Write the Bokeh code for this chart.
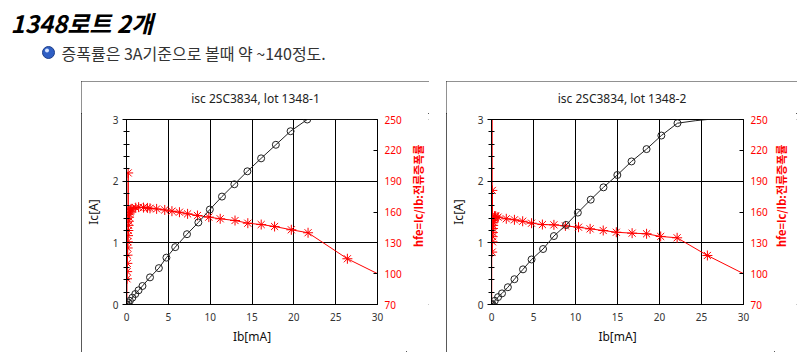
import math
from bokeh.plotting import figure
from bokeh.models import Range1d, LinearAxis, FixedTicker, SingleIntervalTicker, Spacer
from bokeh.layouts import column, row
from bokeh.embed import file_html
from bokeh.resources import INLINE
from bokeh.core.properties import value

# ---------------- data ----------------
heading = "1348로트 2개"
note = "증폭률은 3A기준으로 볼때 약 ~140정도."
titles = ["isc 2SC3834, lot 1348-1", "isc 2SC3834, lot 1348-2"]
x_label = "Ib[mA]"
y_label = "Ic[A]"
y2_label = "hfe=Ic/Ib:전류증폭률"
hfe_ticks = [70, 100, 130, 160, 190, 220, 250]

# lot 1348-1 : Ic vs Ib
ib_a1 = [0.0, 0.05, 0.2, 0.4, 0.7, 1.05, 1.44, 1.91, 2.81, 3.87, 4.77, 5.82, 7.23, 8.59,
         9.96, 11.41, 12.89, 14.45, 16.09, 17.85, 19.61, 21.6, 26.4, 30.0]
ic_a1 = [0.0, 0.005, 0.03, 0.06, 0.11, 0.17, 0.23, 0.30, 0.44, 0.59, 0.76, 0.93, 1.14, 1.33,
         1.54, 1.75, 1.95, 2.16, 2.37, 2.59, 2.81, 3.0, 3.0, 3.0]
# lot 1348-1 : hfe vs Ib
ib_h1 = [0.03, 0.06, 0.08, 0.1, 0.12, 0.14, 0.16, 0.18, 0.2, 0.22, 0.25, 0.28, 0.31, 0.35,
         0.4, 0.46, 0.55, 0.67, 1.1, 1.45, 2.03, 2.5, 2.81, 3.6, 4.57, 5.43, 6.33, 7.3, 8.48,
         9.84, 11.2, 12.97, 14.5, 16.1, 17.7, 19.7, 21.7, 26.4, 30.0]
hfe_1 = [40, 95, 102, 110, 118, 125, 131, 137, 198, 142, 147, 151, 155, 158,
         160, 162, 163, 163.1, 164.2, 164.7, 164.3, 164.0, 163.6, 163.0, 162.0, 160.8, 159.8, 158.2, 156.6,
         155.0, 153.4, 151.7, 149.1, 147.8, 145.9, 142.7, 139.8, 114.5, 100.0]

# lot 1348-2 : Ic vs Ib
ib_a2 = [0.0, 0.1, 0.39, 0.78, 1.25, 1.95, 2.73, 3.75, 4.77, 6.14, 7.43, 8.88, 10.28, 11.81,
         13.33, 14.98, 16.67, 18.46, 20.22, 22.14, 24.25, 25.7, 30.0]
ic_a2 = [0.0, 0.01, 0.06, 0.12, 0.18, 0.28, 0.41, 0.57, 0.73, 0.90, 1.11, 1.29, 1.49, 1.70,
         1.90, 2.10, 2.32, 2.52, 2.74, 2.94, 2.98, 3.0, 3.0]
# lot 1348-2 : hfe vs Ib
ib_h2 = [0.02, 0.05, 0.08, 0.1, 0.12, 0.14, 0.16, 0.18, 0.2, 0.23, 0.26, 0.3, 0.35, 0.42, 0.5,
         0.78, 1.76, 2.73, 3.71, 4.77, 6.06, 7.43, 8.8, 10.36, 11.74, 13.3, 14.86, 16.74,
         18.46, 20.14, 22.1, 25.7, 30.0]
hfe_2 = [30, 300, 121, 181, 131, 136, 140, 144, 147, 150, 152, 154, 156, 155, 156,
         155.0, 153.4, 152.4, 151.0, 149.1, 147.8, 147.5, 146.5, 145.2, 143.6, 142.0, 140.3, 139.4,
         138.8, 136.2, 134.9, 117.7, 100.0]

FONT = "Noto Sans"
KFONT = "Noto Sans CJK KR"
RED = "#ff0000"
TITLE_H = 32
H = 239
LABEL_W = 23


def strip(width, height):
    f = figure(width=width, height=height, x_range=Range1d(0, width), y_range=Range1d(height, 0),
               output_backend="svg", toolbar_location=None, x_axis_type=None,
               y_axis_type=None, min_border=0, border_fill_color="white",
               background_fill_color="white")
    f.grid.visible = False
    f.outline_line_color = None
    return f


def make_chart(ib_a, ic_a, n_circ, ib_h, hfe, width, left, right):
    p = figure(width=width, height=H, x_range=Range1d(0, 30), y_range=Range1d(0, 3),
               output_backend="svg", toolbar_location=None,
               min_border_left=left, min_border_right=right,
               min_border_top=6, min_border_bottom=48,
               background_fill_color="white", border_fill_color="white")
    p.outline_line_color = "black"
    p.outline_line_width = 1

    p.extra_y_ranges = {"hfe": Range1d(70, 250)}

    xa = p.xaxis[0]
    xa.ticker = SingleIntervalTicker(interval=5, num_minor_ticks=0)
    xa.axis_label = x_label
    ya = p.yaxis[0]
    ya.ticker = SingleIntervalTicker(interval=1, num_minor_ticks=5)
    ya.axis_label = y_label

    ra = LinearAxis(y_range_name="hfe", ticker=FixedTicker(ticks=hfe_ticks))
    p.add_layout(ra, "right")

    for ax in (xa, ya, ra):
        ax.axis_line_color = "black"
        ax.major_label_text_font = FONT
        ax.major_label_text_font_size = "10px"
        ax.axis_label_text_font = FONT
        ax.axis_label_text_font_size = "12px"
        ax.axis_label_text_font_style = "normal"
        ax.axis_label_text_color = "#111"
        ax.major_label_text_color = "#333"
        ax.major_tick_line_color = "black"
        ax.minor_tick_line_color = "black"

    xa.major_tick_in = 0
    xa.major_tick_out = 0
    xa.minor_tick_line_color = None
    xa.major_label_standoff = 8
    xa.axis_label_standoff = 4

    ya.major_tick_in = 0
    ya.major_tick_out = 4
    ya.minor_tick_in = 3
    ya.minor_tick_out = 3
    ya.major_label_standoff = 4
    ya.axis_label_standoff = 8

    ra.major_tick_in = 4
    ra.major_tick_out = 0
    ra.minor_tick_line_color = None
    ra.major_label_standoff = 7
    ra.major_label_text_color = RED

    p.xgrid.grid_line_color = "black"
    p.ygrid.grid_line_color = "black"
    p.xgrid.grid_line_alpha = 1
    p.ygrid.grid_line_alpha = 1

    # hfe series (red, secondary axis)
    p.line(ib_h, hfe, y_range_name="hfe", line_color=RED, line_width=1)
    p.scatter(ib_h[:-1], hfe[:-1], y_range_name="hfe", marker="asterisk", size=10,
              line_color=RED, line_width=1)
    # Ic series (black, primary axis)
    p.line(ib_a, ic_a, line_color="#222", line_width=1)
    p.scatter(ib_a[:n_circ], ic_a[:n_circ], marker="circle", size=7,
              line_color="#222", fill_color=None, line_width=1)
    return p


def side_label(cx):
    # narrow strip holding the secondary axis title, reading bottom-to-top
    f = strip(LABEL_W, H)
    f.text(x=[cx], y=[98.5], text=[y2_label], angle=math.pi / 2,
           text_font=value(KFONT), text_font_size="11px", text_font_style="bold",
           text_color=RED, text_align="center", text_baseline="middle")
    return f


def title_strip(title, width):
    f = strip(width, TITLE_H)
    f.text(x=[width / 2], y=[17], text=[title], text_font=value(FONT), text_font_size="12px",
           text_color="#222", text_align="center", text_baseline="middle")
    return f


BOX = {"outline": "1px solid #222", "outline-offset": "-1px"}


def chart_box(title, ib_a, ic_a, n_circ, ib_h, hfe, width, left, right, label_cx):
    p = make_chart(ib_a, ic_a, n_circ, ib_h, hfe, width - LABEL_W, left, right)
    return column(title_strip(title, width), row(p, side_label(label_cx)), styles=BOX)


box1 = chart_box(titles[0], ib_a1, ic_a1, len(ib_a1) - 2, ib_h1, hfe_1, 348, 40, 29, 11)
box2 = chart_box(titles[1], ib_a2, ic_a2, len(ib_a2) - 3, ib_h2, hfe_2, 351, 41, 31, 6)

# header
h = strip(800, 81)
h.text(x=[10], y=[22], text=[heading], text_font=value(KFONT), text_font_size="24px",
       text_font_style="bold italic", text_baseline="middle", text_color="black")
h.scatter(x=[48], y=[52], size=12, fill_color="#2f5fc4", line_color="#1e3f8a")
h.scatter(x=[46.5], y=[50], size=4, fill_color="#d6e4ff", line_color=None)
h.text(x=[61], y=[52], text=[note], text_font=value(KFONT), text_font_size="16px",
       text_baseline="middle", text_color="#333")

layout = column(h, row(Spacer(width=81, height=TITLE_H + H), box1,
                       Spacer(width=17, height=TITLE_H + H), box2))

open("out.html", "w").write(file_html(layout, INLINE))
